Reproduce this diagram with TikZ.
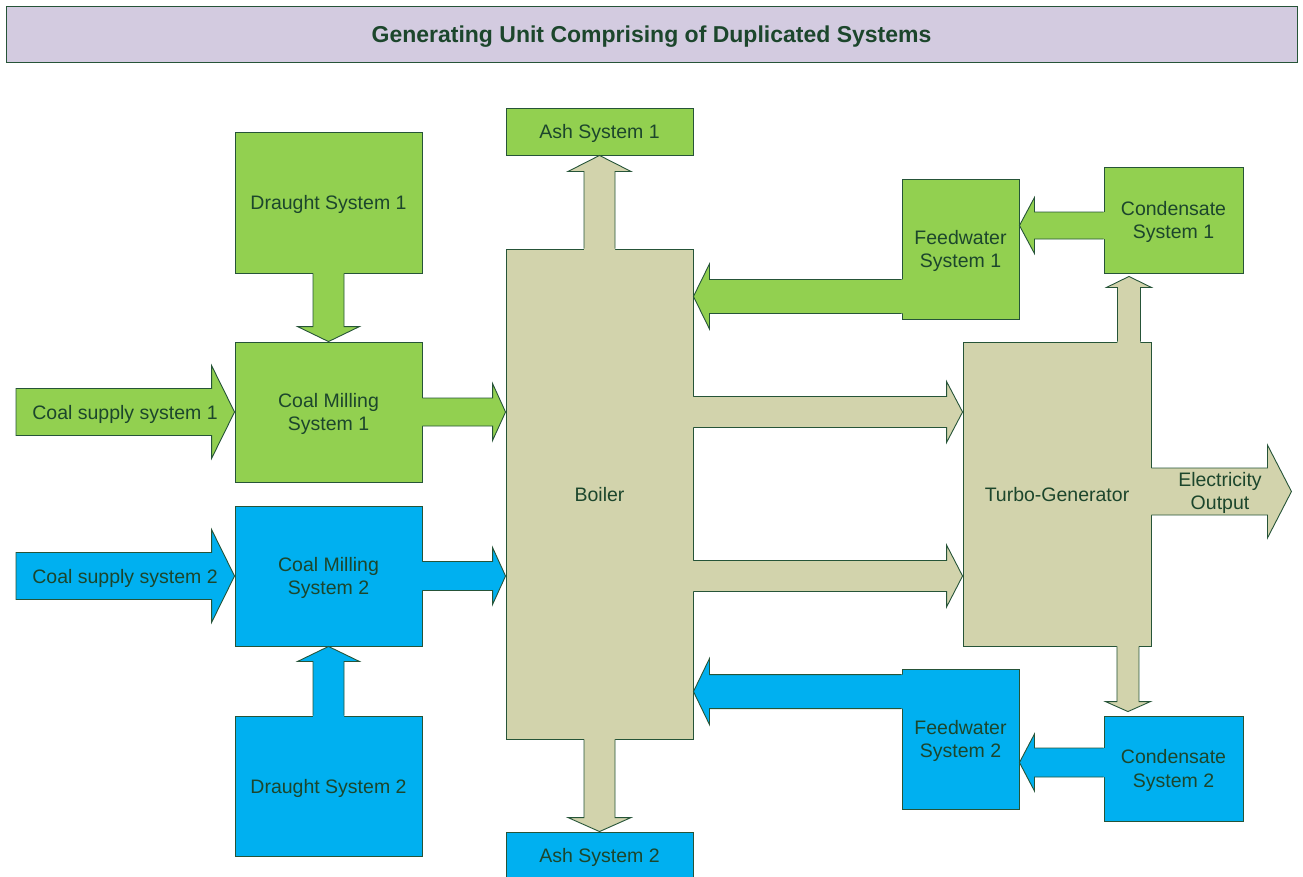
\documentclass[tikz,border=0pt]{standalone}
\usepackage{fontspec}
\setmainfont{Liberation Sans}
\usetikzlibrary{calc}

\definecolor{gfill}{RGB}{146,208,80}
\definecolor{bfill}{RGB}{0,176,240}
\definecolor{kfill}{RGB}{210,211,172}
\definecolor{tfill}{RGB}{211,203,224}
\definecolor{edgecol}{RGB}{38,84,56}
\definecolor{txtcol}{RGB}{28,70,44}

\newcommand\bodyfont{\fontsize{19.5}{23.4}\selectfont}
\newcommand\headfont{\fontsize{23}{27}\selectfont\bfseries}

% Block arrow from tail #2 to tip #3: #1 fill, #4 half shaft, #5 half head, #6 head length.
% The tail edge is left open so the arrow merges with the block it leaves.
\newcommand\barr[6]{%
  \coordinate (bA) at #2; \coordinate (bB) at #3;
  \coordinate (bH) at ($(bB)!#6pt!(bA)$);
  \coordinate (bT) at ($(bA)!-2.5pt!(bB)$);
  \fill[#1] ($(bT)!#4pt!90:(bB)$) -- ($(bH)!#4pt!90:(bB)$) -- ($(bH)!#5pt!90:(bB)$) -- (bB)
    -- ($(bH)!#5pt!-90:(bB)$) -- ($(bH)!#4pt!-90:(bB)$) -- ($(bT)!#4pt!-90:(bB)$) -- cycle;
  \draw[edge] ($(bA)!#4pt!90:(bB)$) -- ($(bH)!#4pt!90:(bB)$) -- ($(bH)!#5pt!90:(bB)$) -- (bB)
    -- ($(bH)!#5pt!-90:(bB)$) -- ($(bH)!#4pt!-90:(bB)$) -- ($(bA)!#4pt!-90:(bB)$);
}
% Free-standing block arrow with a closed outline.
\newcommand\barrc[6]{%
  \coordinate (bA) at #2; \coordinate (bB) at #3;
  \coordinate (bH) at ($(bB)!#6pt!(bA)$);
  \filldraw[fill=#1, edge] ($(bA)!#4pt!90:(bB)$) -- ($(bH)!#4pt!90:(bB)$) -- ($(bH)!#5pt!90:(bB)$) -- (bB)
    -- ($(bH)!#5pt!-90:(bB)$) -- ($(bH)!#4pt!-90:(bB)$) -- ($(bA)!#4pt!-90:(bB)$) -- cycle;
}

\tikzset{
  edge/.style={draw=edgecol, line width=0.9pt, line join=miter},
  box/.style={edge, inner sep=0pt, align=center, text=txtcol, font=\bodyfont, text depth=0pt},
  lbl/.style={inner sep=0pt, align=center, text=txtcol, font=\bodyfont, text depth=0pt},
  gbox/.style={box, fill=gfill},
  bbox/.style={box, fill=bfill},
  kbox/.style={box, fill=kfill},
}

\begin{document}
\begin{tikzpicture}[x=1pt, y=-1pt]
\useasboundingbox (0,0) rectangle (1303,876);

% title bar
\node[box, fill=tfill, font=\headfont, minimum width=1291pt, minimum height=56pt] (title)
  at (651.5,34) {Generating Unit Comprising of Duplicated Systems};

% blocks
\node[gbox, minimum width=187pt, minimum height=141pt] (d1)  at (328.5,202.5) {Draught System 1};
\node[gbox, minimum width=187pt, minimum height=140pt] (cm1) at (328.5,412) {Coal Milling\\System 1};
\node[bbox, minimum width=187pt, minimum height=140pt] (cm2) at (328.5,576) {Coal Milling\\System 2};
\node[bbox, minimum width=187pt, minimum height=140pt] (d2)  at (328.5,786) {Draught System 2};

\node[gbox, minimum width=187pt, minimum height=47pt] (ash1) at (599.5,131.5) {Ash System 1};
\node[kbox, minimum width=187pt, minimum height=490pt] (boiler) at (599.5,494) {Boiler};
\node[bbox, minimum width=187pt, minimum height=47pt] (ash2) at (599.5,855.5) {Ash System 2};

\node[gbox, minimum width=117pt, minimum height=140pt] (fw1) at (960.5,249) {Feedwater\\System 1};
\node[bbox, minimum width=117pt, minimum height=140pt] (fw2) at (960.5,739) {Feedwater\\System 2};
\node[gbox, minimum width=139pt, minimum height=106pt] (cond1) at (1173.5,220) {Condensate\\System 1};
\node[bbox, minimum width=139pt, minimum height=105pt] (cond2) at (1173.5,768.5) {Condensate\\System 2};
\node[kbox, minimum width=188pt, minimum height=304pt] (tg) at (1057,494) {Turbo-Generator};

% reference points for arrow tails and free ends
\coordinate (cs1tail) at (16,412);
\coordinate (cs2tail) at (16,576);
\coordinate (fw1out) at ($(fw1.south west)+(0,-23)$);
\coordinate (fw2out) at ($(fw2.north west)+(0,23)$);
\coordinate (cond1out) at ($(cond1.west)+(0,5.5)$);
\coordinate (cond2out) at ($(cond2.west)+(0,-6)$);
\coordinate (tgup) at ($(tg.north east)+(-22.5,0)$);
\coordinate (tgdown) at ($(tg.south east)+(-23.5,0)$);
\coordinate (tgout) at ($(tg.east)+(0,-2.5)$);
\coordinate (elec) at ($(tgout)+(140,0)$);

% fuel and air paths
\barrc{gfill}{(cs1tail)}{(cm1.west)}{23.5}{46.5}{23}
\barrc{bfill}{(cs2tail)}{(cm2.west)}{23.5}{46.5}{23}
\barr{gfill}{(d1.south)}{(cm1.north)}{15.5}{31}{15}
\barr{bfill}{(d2.north)}{(cm2.south)}{15.5}{31}{15}
\barr{gfill}{(cm1.east)}{(boiler.west |- cm1.east)}{14}{28.5}{13}
\barr{bfill}{(cm2.east)}{(boiler.west |- cm2.east)}{14.5}{28.5}{13}

% ash removal
\barr{kfill}{(boiler.north)}{(ash1.south)}{15.5}{31.5}{16}
\barr{kfill}{(boiler.south)}{(ash2.north)}{15.5}{31.5}{14}

% water circuit
\barr{gfill}{(fw1out)}{(boiler.east |- fw1out)}{17}{32.5}{16}
\barr{bfill}{(fw2out)}{(boiler.east |- fw2out)}{17}{33}{16}
\barr{gfill}{(cond1out)}{(fw1.east |- cond1out)}{13.5}{28}{15}
\barr{bfill}{(cond2out)}{(fw2.east |- cond2out)}{14.5}{28.5}{15}

% steam to turbine
\barr{kfill}{(boiler.east |- cm1.east)}{(tg.west |- cm1.east)}{15.5}{30.5}{16}
\barr{kfill}{(boiler.east |- cm2.east)}{(tg.west |- cm2.east)}{15.5}{31}{16}

% turbine exhaust to condensers and power out
\barr{kfill}{(tgup)}{($(tgup |- cond1.south)+(0,3)$)}{11.5}{22.5}{11}
\barr{kfill}{(tgdown)}{($(tgdown |- cond2.north)+(0,-4)$)}{11}{22.5}{10}
\barr{kfill}{(tgout)}{(elec)}{23.5}{46.5}{24}

% arrow captions
\node[lbl] (cs1) at (125,412) {Coal supply system 1};
\node[lbl] (cs2) at (125,576) {Coal supply system 2};
\node[lbl] (eout) at (1220,491) {Electricity\\Output};
\end{tikzpicture}
\end{document}
